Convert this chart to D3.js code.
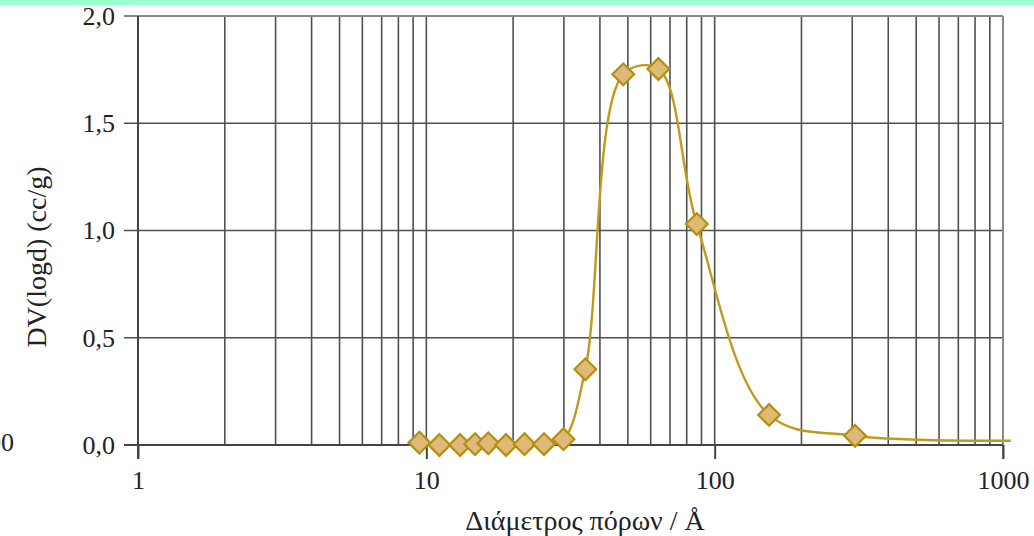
<!DOCTYPE html>
<html>
<head>
<meta charset="utf-8">
<script src="https://cdn.jsdelivr.net/npm/d3@7"></script>
<style>
  html, body { margin: 0; padding: 0; background: #fff; }
  svg { display: block; }
  text { font-family: "Liberation Serif", "Times New Roman", serif; fill: #222; }
</style>
</head>
<body>
<div id="chart"></div>
<script>
// pore diameter (Å) and DV(logd) (cc/g)
const diameters = [9.46, 11.1, 13.1, 14.75, 16.4, 18.9, 21.9, 25.6, 29.9, 35.6, 48.2, 63.8, 86.7, 154.4, 306.9];
const dvValues = [0.011, 0.0, 0.0, 0.004, 0.008, 0.0, 0.004, 0.004, 0.027, 0.353, 1.728, 1.753, 1.03, 0.14, 0.043];
// the smoothed line runs on a little past the last marker
const tailDiameters = [1064];
const tailValues = [0.02];

const xTicks = [1, 10, 100, 1000];
const yTicks = [0, 0.5, 1.0, 1.5, 2.0];

const width = 1034;
const height = 536;
const margin = { top: 16, right: 31, bottom: 91, left: 138 };

const svg = d3
  .select("#chart")
  .append("svg")
  .attr("width", width)
  .attr("height", height)
  .attr("viewBox", `0 0 ${width} ${height}`);

// mint strip along the top edge
svg.append("rect").attr("x", 0).attr("y", 0).attr("width", width).attr("height", 5).attr("fill", "#99ffcc");

const xScale = d3.scaleLog().domain([1, 1000]).range([margin.left, width - margin.right]);
const yScale = d3.scaleLinear().domain([0, 2]).range([height - margin.bottom, margin.top]);

// minor grid: 2..9 in each decade
const minorX = [];
[1, 10, 100].forEach((decade) => {
  for (let k = 2; k <= 9; k++) minorX.push(decade * k);
});

const grid = svg.append("g").attr("stroke", "#505050").attr("stroke-width", 1.6);
grid
  .selectAll("line.vx")
  .data(minorX.concat([10, 100]))
  .enter()
  .append("line")
  .attr("x1", (d) => xScale(d))
  .attr("x2", (d) => xScale(d))
  .attr("y1", yScale(0))
  .attr("y2", yScale(2));

grid
  .selectAll("line.hy")
  .data(yTicks.filter((v) => v > 0 && v < 2))
  .enter()
  .append("line")
  .attr("x1", xScale(1) - 14)
  .attr("x2", xScale(1000))
  .attr("y1", (d) => yScale(d))
  .attr("y2", (d) => yScale(d));

// frame: top and right edges lighter
svg
  .append("line")
  .attr("x1", xScale(1) - 14)
  .attr("x2", xScale(1000))
  .attr("y1", yScale(2))
  .attr("y2", yScale(2))
  .attr("stroke", "#888")
  .attr("stroke-width", 2);
svg
  .append("line")
  .attr("x1", xScale(1000))
  .attr("x2", xScale(1000))
  .attr("y1", yScale(2))
  .attr("y2", yScale(0) + 14)
  .attr("stroke", "#888")
  .attr("stroke-width", 2);

// axes
const xAxis = svg
  .append("g")
  .attr("transform", `translate(0, ${yScale(0)})`)
  .call(d3.axisBottom(xScale).tickValues(xTicks).tickSize(14).tickSizeOuter(0).tickPadding(12).tickFormat(d3.format("d")));
xAxis.select(".domain").attr("d", `M${xScale(1) - 14},0H${xScale(1000)}`).attr("stroke", "#444").attr("stroke-width", 2);
xAxis.selectAll(".tick line").attr("stroke", "#444").attr("stroke-width", 2);
xAxis.selectAll(".tick text").attr("font-size", 26).attr("font-family", "Liberation Serif").attr("fill", "#222");

const yAxis = svg
  .append("g")
  .attr("transform", `translate(${margin.left}, 0)`)
  .call(
    d3
      .axisLeft(yScale)
      .tickValues(yTicks)
      .tickSize(0)
      .tickPadding(23)
      .tickFormat((d) => d3.format(".1f")(d).replace(".", ","))
  );
yAxis.select(".domain").attr("d", `M0,${yScale(2)}V${yScale(0) + 14}`).attr("stroke", "#444").attr("stroke-width", 2);
yAxis.selectAll(".tick text").attr("font-size", 26).attr("font-family", "Liberation Serif").attr("fill", "#222");

// axis titles
svg
  .append("text")
  .attr("x", 585)
  .attr("y", 530)
  .attr("text-anchor", "middle")
  .attr("font-size", 28)
  .text("Διάμετρος πόρων / Å");

svg
  .append("text")
  .attr("transform", "translate(46, 257) rotate(-90)")
  .attr("text-anchor", "middle")
  .attr("font-size", 28)
  .text("DV(logd) (cc/g)");

// stray label clipped at the left edge
svg.append("text").attr("x", 14).attr("y", 451).attr("text-anchor", "end").attr("font-size", 26).text("00");

// data
const points = diameters.map((d, i) => ({ x: d, y: dvValues[i] }));
const linePoints = points.concat(tailDiameters.map((d, i) => ({ x: d, y: tailValues[i] })));

const line = d3
  .line()
  .x((p) => xScale(p.x))
  .y((p) => yScale(p.y))
  .curve(d3.curveCatmullRom.alpha(0.5));

svg
  .append("path")
  .datum(linePoints)
  .attr("d", line)
  .attr("fill", "none")
  .attr("stroke", "#c09a1c")
  .attr("stroke-width", 2.4);

const diamond = d3.symbol().type(d3.symbolDiamond2).size(300);
svg
  .append("g")
  .selectAll("path")
  .data(points)
  .enter()
  .append("path")
  .attr("transform", (p) => `translate(${xScale(p.x)}, ${yScale(p.y)})`)
  .attr("d", diamond)
  .attr("fill", "#dfb977")
  .attr("stroke", "#b48f12")
  .attr("stroke-width", 2.2);
</script>
</body>
</html>
